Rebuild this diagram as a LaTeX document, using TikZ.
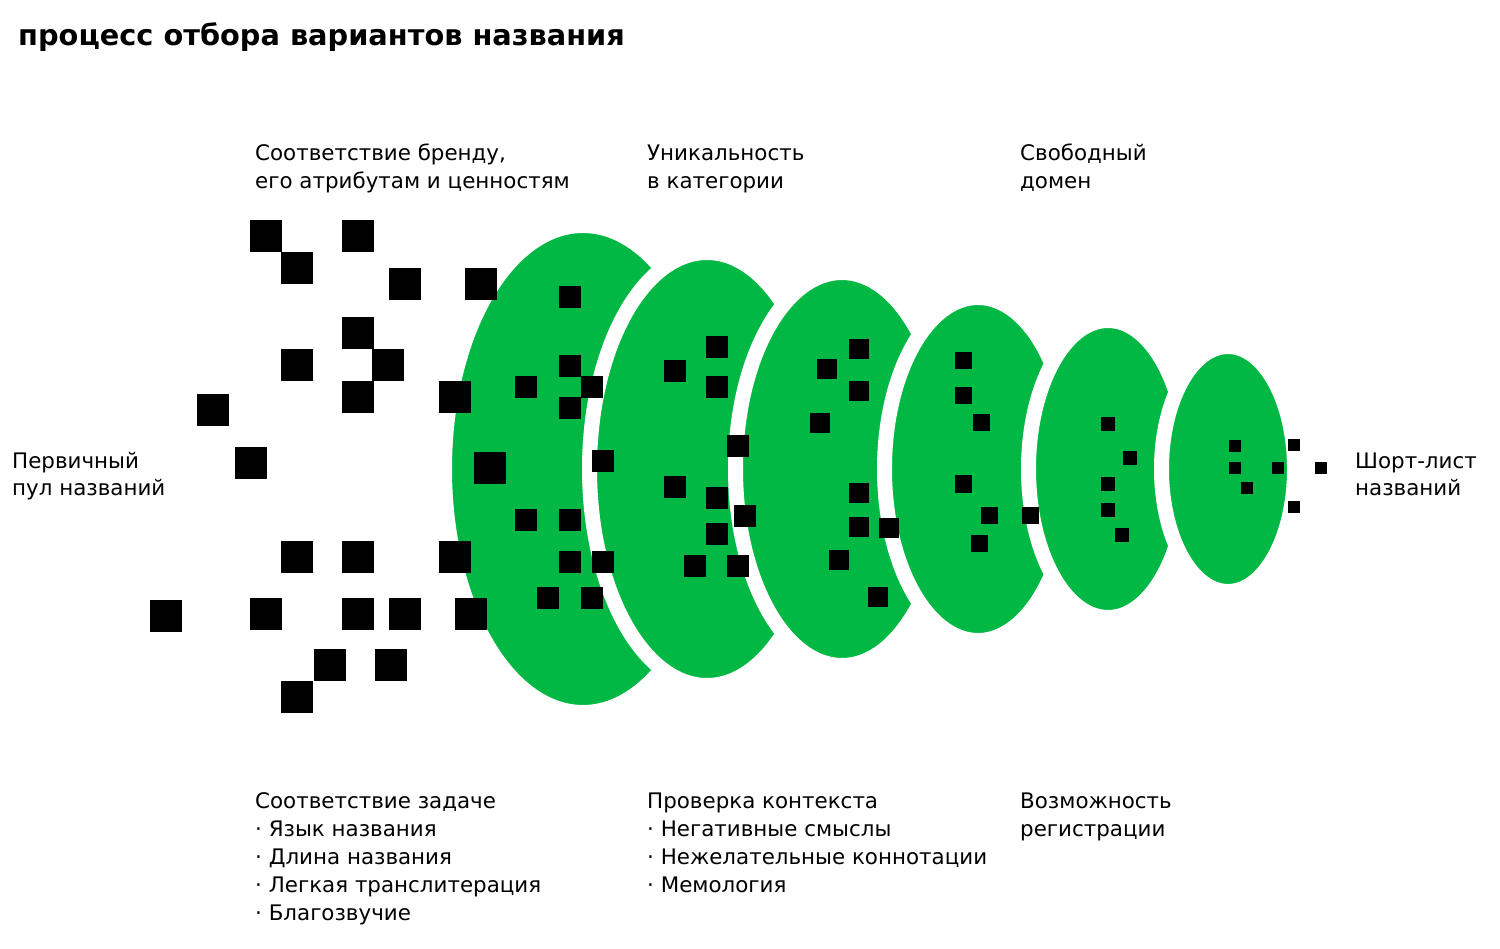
\documentclass[tikz,border=0pt]{standalone}
\usepackage{fontspec}
\setmainfont{DejaVu Sans}
\usepackage{tikz}
\usetikzlibrary{positioning}
\definecolor{nmgreen}{HTML}{00B843}
\definecolor{nmink}  {HTML}{000000}
\tikzset{
  nmstage/.style={fill=nmgreen, draw=white, line width=15pt},
  nmsq/.style={fill=nmink},
  nmlabel/.style={anchor=base west, inner sep=0pt, align=left,
                  font=\fontsize{21.4}{28}\selectfont},
  nmtitle/.style={anchor=base west, inner sep=0pt,
                  font=\bfseries\fontsize{28.8}{30}\selectfont},
}

\begin{document}
\begin{tikzpicture}[x=1pt,y=-1pt]
  \useasboundingbox (0,0) rectangle (1500,949);
  \node[nmtitle] (title) at (18,46) {процесс отбора вариантов названия};
  % filter stages, left to right: each white rim cuts the previous one
  \foreach \cx/\rx/\ry in {583/131/236,707/110/209,842/99/189,
                           978/86/164,1108/72/141,1228/59/115}
    {\draw[nmstage] (\cx,469) ellipse [x radius=\rx+7.5, y radius=\ry+7.5];}
  % raw pool
  \foreach \x/\y in {266/236,358/236,297/268,405/284,481/284,358/333,297/365,
                     388/365,358/397,455/397,213/410,251/463,490/468,297/557,
                     358/557,455/557,166/616,266/614,358/614,405/614,471/614,
                     330/665,391/665,297/697}
    {\fill[nmsq] (\x-16,\y-16) rectangle ++(32,32);}
  \foreach \x/\y in {570/297,570/366,526/387,592/387,570/408,603/461,526/520,
                     570/520,570/562,603/562,548/598,592/598,
                     717/347,675/371,717/387,738/446,675/487,717/498,745/516,
                     717/534,695/566,738/566}
    {\fill[nmsq] (\x-11,\y-11) rectangle ++(22,22);}
  \foreach \x/\y in {859/349,827/369,859/391,820/423,859/493,859/527,889/528,
                     839/560,878/597}
    {\fill[nmsq] (\x-9.75,\y-9.75) rectangle ++(19.5,19.5);}
  \foreach \x/\y in {963/361,963/396,981/423,963/484,989/515,979/543,1030/515}
    {\fill[nmsq] (\x-8.5,\y-8.5) rectangle ++(17,17);}
  \foreach \x/\y in {1108/424,1130/458,1108/484,1108/510,1122/535}
    {\fill[nmsq] (\x-7.25,\y-7.25) rectangle ++(14.5,14.5);}
  \foreach \x/\y in {1235/446,1235/468,1247/488,1278/468,1294/445,1294/507,
                     1321/468}
    {\fill[nmsq] (\x-6,\y-6) rectangle ++(12,12);}
  % labels (placed at the baseline of their last line)
  \node[nmlabel] (brandlbl) at (255,189)
    {Соответствие бренду,\\его атрибутам и ценностям};
  \node[nmlabel] (uniqlbl) at (647,189) {Уникальность\\в категории};
  \node[nmlabel] (domainlbl) at (1020,189) {Свободный\\домен};
  \node[nmlabel] (poollbl) at (12,496) {Первичный\\пул названий};
  \node[nmlabel] (shortlbl) at (1355,496) {Шорт-лист\\названий};
  \node[nmlabel] (tasklbl) at (255,920)
    {Соответствие задаче\\· Язык названия\\· Длина названия\\
     · Легкая транслитерация\\· Благозвучие};
  \node[nmlabel] (contextlbl) at (647,892)
    {Проверка контекста\\· Негативные смыслы\\· Нежелательные коннотации\\
     · Мемология};
  \node[nmlabel] (reglbl) at (1020,836) {Возможность\\регистрации};
\end{tikzpicture}
\end{document}
